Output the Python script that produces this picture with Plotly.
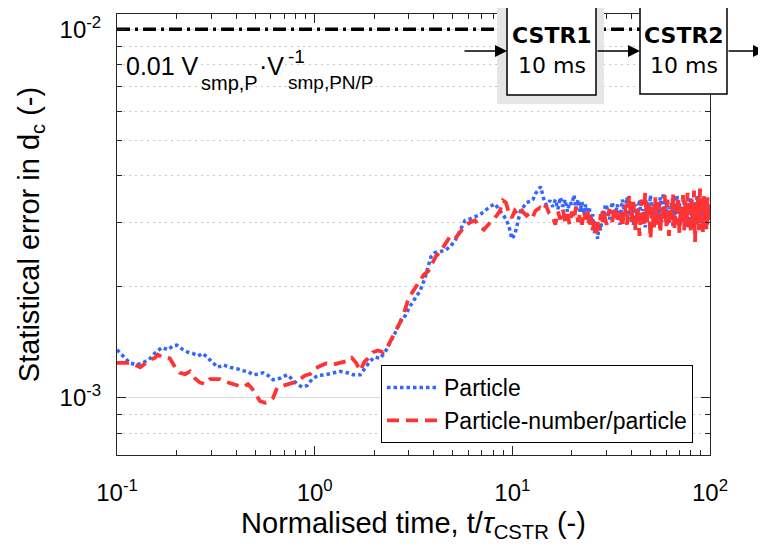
import plotly.graph_objects as go

# ---------------- data (error values in units of 1e-3) ----------------
t_particle_early = [0.100, 0.108, 0.116, 0.125, 0.134, 0.147, 0.157, 0.169, 0.181, 0.192,
                    0.201, 0.216, 0.229, 0.242, 0.257, 0.272, 0.289, 0.306, 0.324, 0.344,
                    0.373, 0.404, 0.434, 0.460, 0.487, 0.517, 0.548, 0.581, 0.616, 0.668,
                    0.725, 0.768, 0.815, 0.864, 0.916, 0.971, 1.04, 1.13, 1.24, 1.345,
                    1.46, 1.56, 1.70, 1.80, 1.91, 2.02, 2.14, 2.27, 2.41, 2.55,
                    2.70, 2.87, 3.03, 3.22, 3.41, 3.61, 3.76, 3.87, 4.06, 4.30,
                    4.56, 4.84, 5.13, 5.43, 5.76, 6.10, 6.47, 6.86, 7.27, 7.70,
                    8.17, 8.66, 8.96, 9.27, 9.60, 9.94, 10.3, 10.6, 11.0, 11.4,
                    11.8, 12.3, 12.7, 13.1, 13.6, 13.9, 14.4, 14.9, 15.5]
err_particle_early = [1.35, 1.29, 1.245, 1.23, 1.24, 1.28, 1.33, 1.37, 1.35, 1.385,
                      1.39, 1.35, 1.33, 1.32, 1.30, 1.32, 1.28, 1.245, 1.21, 1.23,
                      1.21, 1.20, 1.185, 1.18, 1.155, 1.16, 1.17, 1.15, 1.12, 1.13,
                      1.155, 1.125, 1.09, 1.07, 1.08, 1.125, 1.15, 1.155, 1.17, 1.18,
                      1.17, 1.155, 1.155, 1.21, 1.26, 1.29, 1.28, 1.33, 1.41, 1.50,
                      1.60, 1.67, 1.77, 1.86, 1.95, 2.11, 2.27, 2.41, 2.48, 2.49,
                      2.51, 2.57, 2.67, 2.84, 3.03, 3.06, 3.10, 3.14, 3.22, 3.30,
                      3.36, 3.22, 3.16, 3.06, 2.93, 2.70, 2.78, 2.99, 3.22, 3.30,
                      3.39, 3.41, 3.45, 3.58, 3.70, 3.74, 3.47, 3.33, 3.43]

t_pnp_early = [0.100, 0.108, 0.116, 0.123, 0.131, 0.139, 0.147, 0.156, 0.161, 0.171,
               0.185, 0.197, 0.208, 0.221, 0.234, 0.248, 0.263, 0.279, 0.295, 0.313,
               0.332, 0.356, 0.382, 0.409, 0.434, 0.460, 0.482, 0.505, 0.529, 0.561,
               0.595, 0.616, 0.645, 0.690, 0.751, 0.800, 0.844, 0.894, 0.948, 1.00,
               1.066, 1.14, 1.225, 1.31, 1.39, 1.47, 1.54, 1.62, 1.70, 1.78,
               1.86, 1.97, 2.09, 2.22, 2.35, 2.46, 2.58, 2.70, 2.83, 2.96,
               3.11, 3.26, 3.41, 3.57, 3.76, 3.93, 4.12, 4.30, 4.56, 4.84,
               5.13, 5.43, 5.76, 6.10, 6.47, 6.86, 7.18, 7.55, 7.93, 8.32,
               8.66, 8.96, 9.27, 9.60, 9.94, 10.3, 10.6, 11.0, 11.4, 11.8,
               12.3, 12.7, 13.1, 13.8, 14.3, 14.8, 15.3]
err_pnp_early = [1.245, 1.245, 1.245, 1.23, 1.21, 1.24, 1.27, 1.285, 1.31, 1.285,
                 1.28, 1.21, 1.17, 1.16, 1.18, 1.13, 1.10, 1.09, 1.125, 1.125,
                 1.125, 1.105, 1.09, 1.08, 1.07, 1.09, 1.06, 1.02, 0.98, 0.97,
                 0.98, 1.00, 1.065, 1.078, 1.09, 1.105, 1.125, 1.15, 1.16, 1.20,
                 1.22, 1.24, 1.23, 1.24, 1.245, 1.26, 1.285, 1.245, 1.185, 1.25,
                 1.28, 1.33, 1.345, 1.33, 1.385, 1.45, 1.52, 1.60, 1.70, 1.835,
                 1.93, 2.01, 2.09, 2.16, 2.21, 2.33, 2.43, 2.48, 2.62, 2.74,
                 2.70, 2.82, 2.93, 2.99, 3.03, 2.91, 2.86, 2.95, 3.03, 3.12,
                 3.22, 3.43, 3.39, 3.18, 3.08, 3.22, 3.16, 3.26, 3.18, 3.12,
                 3.18, 3.10, 3.22, 3.28, 3.22, 3.33, 3.18]

t_mid = [16.0, 16.5, 17.0, 17.5, 18.0, 18.5, 19.0, 19.5, 20.0, 20.5, 21.0, 21.5, 22.0, 22.5,
         23.0, 23.5, 24.0, 24.5, 25.0, 25.5, 26.0, 26.5, 27.0, 27.5, 28.0, 28.5, 29.0, 29.5]
err_particle_mid = [3.30, 3.45, 3.25, 3.50, 3.30, 3.45, 3.20, 3.40, 3.35, 3.55, 3.25, 3.45, 3.20, 3.40,
                    3.15, 3.35, 3.05, 3.30, 2.95, 3.15, 2.80, 3.00, 2.70, 2.95, 2.85, 3.20, 3.00, 3.35]
err_pnp_mid = [3.10, 2.95, 3.20, 3.05, 3.25, 3.00, 3.15, 2.95, 3.20, 3.05, 3.30, 3.00, 3.15, 2.95,
               3.20, 3.05, 3.25, 2.90, 3.10, 2.85, 3.05, 2.80, 3.00, 2.85, 3.15, 2.95, 3.25, 3.05]

t_late = [30, 31, 32, 33, 34, 35, 36, 37, 38, 39, 40, 41, 42, 43, 44, 45, 46, 47, 48, 49,
          50, 51, 52, 53, 54, 55, 56, 57, 58, 59, 60, 61, 62, 63, 64, 65, 66, 67, 68, 69,
          70, 71, 72, 73, 74, 75, 76, 77, 78, 79, 80, 81, 82, 83, 84, 85, 86, 87, 88, 89,
          90, 91, 92, 93, 94, 95, 96, 97, 98, 99, 100]
err_particle_late = [3.30, 3.05, 3.40, 3.10, 3.35, 2.95, 3.45, 3.15, 3.50, 3.05,
                     3.30, 2.95, 3.35, 3.10, 3.45, 3.00, 3.25, 2.90, 3.40, 3.15,
                     3.55, 3.05, 3.35, 2.95, 3.30, 3.10, 3.50, 3.00, 3.60, 3.20,
                     3.45, 2.95, 3.30, 3.05, 3.40, 2.90, 3.25, 3.05, 3.55, 3.15,
                     3.40, 2.95, 3.30, 3.00, 3.45, 3.10, 3.35, 2.90, 3.25, 3.05,
                     3.50, 3.00, 3.30, 2.95, 3.40, 3.10, 3.55, 3.00, 3.35, 2.90,
                     3.25, 3.05, 3.45, 2.95, 3.30, 3.10, 3.40, 2.95, 3.30, 3.05,
                     3.20]
err_pnp_late = [2.95, 3.25, 3.00, 3.30, 3.05, 3.20, 2.90, 3.35, 2.95, 3.55,
                3.00, 3.40, 2.85, 3.30, 2.75, 3.45, 2.90, 3.60, 3.00, 3.35,
                2.70, 3.30, 2.85, 3.50, 2.95, 3.40, 2.80, 3.25, 3.00, 3.55,
                2.90, 3.45, 2.75, 3.30, 3.05, 3.60, 2.85, 3.35, 2.95, 3.50,
                2.80, 3.30, 3.00, 3.55, 2.85, 3.40, 2.95, 3.60, 2.90, 3.30,
                2.80, 3.45, 3.00, 3.65, 2.65, 3.35, 2.95, 3.50, 2.85, 3.70,
                3.00, 3.40, 2.80, 3.55, 2.95, 3.30, 2.85, 3.50, 3.05, 3.35,
                3.10]

reference_level = 0.01
x_range = [0.1, 100]
x_major = [0.1, 1, 10, 100]
x_major_text = ["10<sup>-1</sup>", "10<sup>0</sup>", "10<sup>1</sup>", "10<sup>2</sup>"]
y_major = [1e-3, 1e-2]
y_major_text = ["10<sup>-3</sup>", "10<sup>-2</sup>"]
x_minor = [0.2, 0.3, 0.4, 0.5, 0.6, 0.7, 0.8, 0.9, 2, 3, 4, 5, 6, 7, 8, 9,
           20, 30, 40, 50, 60, 70, 80, 90]
y_minor = [8e-4, 9e-4, 2e-3, 3e-3, 4e-3, 5e-3, 6e-3, 7e-3, 8e-3, 9e-3]

t_particle = t_particle_early + t_mid + t_late
e_particle = [v * 1e-3 for v in err_particle_early + err_particle_mid + err_particle_late]
t_pnp = t_pnp_early + t_mid + t_late
e_pnp = [v * 1e-3 for v in err_pnp_early + err_pnp_mid + err_pnp_late]
assert len(t_particle) == len(e_particle) and len(t_pnp) == len(e_pnp)

FONT = "Liberation Sans, Arial, Helvetica, sans-serif"
BOXFONT = "DejaVu Sans, Verdana, sans-serif"
AX = "#262626"

fig = go.Figure()
fig.add_trace(go.Scatter(x=x_range, y=[reference_level, reference_level], mode="lines",
                         line=dict(color="black", width=3.5, dash="13px,5px,3px,5px"),
                         showlegend=False, hoverinfo="skip"))
fig.add_trace(go.Scatter(x=t_particle, y=e_particle, mode="lines", name="Particle",
                         line=dict(color="#3366ff", width=3.5, dash="3.5px,3px")))
fig.add_trace(go.Scatter(x=t_pnp, y=e_pnp, mode="lines", name="Particle-number/particle",
                         line=dict(color="#ff3333", width=3.8, dash="12px,7px")))

# page is offset by the 8px body margin; plot area in page px: x 117-710, y 14-455
OFF = 8
W, H = 766 - OFF, 554 - OFF
PL, PR, PT, PB = 117, 710, 14, 455
L, T = PL - OFF, PT - OFF
R, B = W - (PR - OFF), H - (PB - OFF)


def px(x):
    return (x - PL) / (PR - PL)


def py(y):
    return (PB - y) / (PB - PT)


fig.update_layout(
    width=W, height=H,
    margin=dict(l=L, r=R, t=T, b=B),
    paper_bgcolor="white", plot_bgcolor="white",
    font=dict(family=FONT, size=24, color="black"),
    showlegend=True,
    legend=dict(x=px(693), xanchor="right", y=py(404), yanchor="middle",
                bgcolor="white", bordercolor="black", borderwidth=1, itemwidth=52,
                font=dict(size=23, family=FONT, color="black"), tracegroupgap=0),
)

fig.update_xaxes(
    type="log", range=[-1, 2],
    tickmode="array", tickvals=x_major, ticktext=x_major_text,
    ticks="inside", ticklen=9, tickwidth=1, tickcolor=AX,
    showline=True, linecolor=AX, linewidth=1, mirror="ticks",
    showgrid=False, zeroline=False, ticklabelstandoff=16,
    tickfont=dict(size=24, family=FONT, color="black"),
    minor=dict(tickmode="array", tickvals=x_minor, ticks="inside", ticklen=5,
               tickcolor=AX, showgrid=False),
    title=dict(text="Normalised time, t/<i>\u03c4</i><sub>CSTR</sub> (-)",
               font=dict(size=29, family=FONT, color="black"), standoff=7),
)
fig.update_yaxes(
    type="log", range=[-3.1549, -1.9586],
    tickmode="array", tickvals=y_major, ticktext=y_major_text,
    ticks="inside", ticklen=9, tickwidth=1, tickcolor=AX,
    showline=True, linecolor=AX, linewidth=1, mirror="ticks",
    showgrid=True, gridcolor="#dcdcdc", gridwidth=1, zeroline=False,
    ticklabelstandoff=10,
    tickfont=dict(size=24, family=FONT, color="black"),
    minor=dict(tickmode="array", tickvals=y_minor, ticks="inside", ticklen=5,
               tickcolor=AX, showgrid=True, gridcolor="#c8c8c8", gridwidth=1,
               griddash="2px,4px"),
    title=dict(text="Statistical error in d<sub>c</sub> (-)",
               font=dict(size=29, family=FONT, color="black"), standoff=11),
)

# formula annotation, built from pieces so that super/subscript stack like the original
formula_parts = [
    ("0.01 V", 125, 66, 25, True),
    ("smp,P", 200, 83, 20, False),
    ("\u00b7V", 258, 66, 25, True),
    ("-1", 287, 56, 19, False),
    ("smp,PN/P", 287, 83, 19, False),
]
for txt, x0, ymid, size, bg in formula_parts:
    fig.add_annotation(xref="paper", yref="paper", x=px(x0), y=py(ymid),
                       xanchor="left", yanchor="middle", showarrow=False,
                       bgcolor="white" if bg else "rgba(0,0,0,0)", borderpad=0,
                       text=txt, font=dict(size=size, family=FONT, color="black"))

# CSTR flow diagram
shapes = [
    dict(type="rect", xref="paper", yref="paper", x0=px(497), x1=px(604), y0=py(104), y1=py(0),
         fillcolor="#e6e6e6", line=dict(width=0), layer="above"),
    dict(type="rect", xref="paper", yref="paper", x0=px(507), x1=px(596), y0=py(95), y1=py(6),
         fillcolor="white", line=dict(color="black", width=1.5), layer="above"),
    dict(type="rect", xref="paper", yref="paper", x0=px(640), x1=px(727), y0=py(94), y1=py(6),
         fillcolor="white", line=dict(color="black", width=1.5), layer="above"),
]
for s in shapes:
    fig.add_shape(**s)

for cx, name in [(551.5, "CSTR1"), (683.5, "CSTR2")]:
    fig.add_annotation(xref="paper", yref="paper", x=px(cx), y=py(36),
                       xanchor="center", yanchor="middle", showarrow=False,
                       text="<b>" + name + "</b>", font=dict(size=22, family=BOXFONT, color="black"))
    fig.add_annotation(xref="paper", yref="paper", x=px(cx), y=py(65),
                       xanchor="center", yanchor="middle", showarrow=False,
                       text="10 ms", font=dict(size=22, family=BOXFONT, color="black"))

for x_tail, x_head in [(463, 507), (596, 640), (727, 772)]:
    fig.add_annotation(xref="paper", yref="paper", x=px(x_head), y=py(51),
                       ax=x_tail - x_head, ay=0, axref="pixel", ayref="pixel",
                       showarrow=True, arrowhead=2, arrowsize=1.6, arrowwidth=1.5,
                       arrowcolor="black", text="")

fig.write_html("out.html")
